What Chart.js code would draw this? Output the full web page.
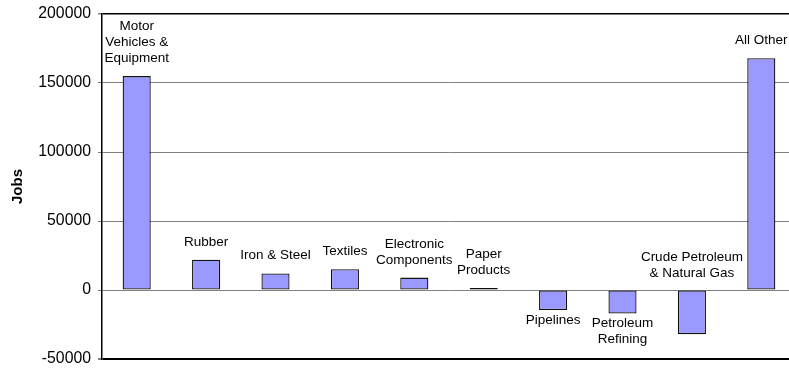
<!DOCTYPE html>
<html>
<head>
<meta charset="utf-8">
<script src="https://cdn.jsdelivr.net/npm/chart.js@4/dist/chart.umd.min.js"></script>
<style>
  html, body { margin: 0; padding: 0; background: #fff; overflow: hidden; }
  #wrap { position: relative; width: 796px; height: 369px; }
</style>
</head>
<body>
<div id="wrap"><canvas id="c"></canvas></div>
<script>
// Industry groups (multi-line names as drawn beside each bar)
const categories = [
  ['Motor', 'Vehicles &', 'Equipment'],
  ['Rubber'],
  ['Iron & Steel'],
  ['Textiles'],
  ['Electronic', 'Components'],
  ['Paper', 'Products'],
  ['Pipelines'],
  ['Petroleum', 'Refining'],
  ['Crude Petroleum', '& Natural Gas'],
  ['All Other']
];

// Change in jobs per industry
const jobs = [155000, 22000, 12000, 15000, 9000, 1500, -14500, -17000, -32000, 168000];

// Value axis ticks
const yTicks = [-50000, 0, 50000, 100000, 150000, 200000];

const FONT = "'Liberation Sans', Arial, Helvetica, sans-serif";

// Writes each industry name above positive bars and below negative ones;
// a name that would run past the bottom of the plot goes above the zero line.
const barNames = {
  id: 'barNames',
  afterDatasetsDraw(chart) {
    const ctx = chart.ctx;
    const meta = chart.getDatasetMeta(0);
    const area = chart.chartArea;
    const lineH = 16;
    ctx.save();
    ctx.font = '13.5px ' + FONT;
    ctx.fillStyle = '#000';
    ctx.textAlign = 'center';
    ctx.textBaseline = 'alphabetic';
    meta.data.forEach((bar, i) => {
      const lines = categories[i];
      const v = jobs[i];
      const drawAbove = (edge) => {
        const lastBase = edge - 14;
        lines.forEach((t, k) => {
          ctx.fillText(t, bar.x, lastBase - (lines.length - 1 - k) * lineH);
        });
      };
      if (v >= 0) {
        drawAbove(bar.y);
      } else {
        const firstBase = bar.y + 14;
        const lastBottom = firstBase + (lines.length - 1) * lineH + 4;
        if (lastBottom > area.bottom) {
          drawAbove(bar.base);
        } else {
          lines.forEach((t, k) => {
            ctx.fillText(t, bar.x, firstBase + k * lineH);
          });
        }
      }
    });
    ctx.restore();
  }
};

new Chart(document.getElementById('c'), {
  type: 'bar',
  data: {
    labels: categories.map(c => c.join(' ')),
    datasets: [{
      data: jobs,
      backgroundColor: '#9999ff',
      borderColor: '#111',
      borderWidth: 1.3,
      borderSkipped: false,
      categoryPercentage: 1,
      barPercentage: 0.405
    }]
  },
  options: {
    responsive: true,
    maintainAspectRatio: false,
    animation: false,
    layout: { padding: { top: 14, bottom: 10, left: 0, right: 0 } },
    plugins: {
      legend: { display: false },
      tooltip: { enabled: false }
    },
    scales: {
      x: {
        display: false,
        grid: { display: false }
      },
      y: {
        min: -50000,
        max: 200000,
        afterBuildTicks(scale) {
          scale.ticks = yTicks.map(v => ({ value: v }));
        },
        afterFit(scale) {
          scale.width = 102;
          // only half a label's height is needed above and below the axis
          scale.paddingTop = 9;
          scale.paddingBottom = 9;
        },
        title: {
          display: true,
          text: 'Jobs',
          color: '#000',
          font: { family: FONT, size: 15, weight: 'bold' },
          padding: { top: 9, bottom: 0 }
        },
        ticks: {
          color: '#000',
          padding: 7,
          font: { family: FONT, size: 15.8 },
          callback: v => String(v)
        },
        border: { display: true, color: '#000', width: 1.5 },
        grid: {
          drawTicks: true,
          tickLength: 4,
          tickColor: '#808080',
          color: ctx => (ctx.tick && (ctx.tick.value === 200000 || ctx.tick.value === -50000)) ? '#000' : '#808080',
          lineWidth: ctx => (ctx.tick && ctx.tick.value === -50000) ? 2 : (ctx.tick && ctx.tick.value === 200000 ? 1.5 : 1)
        }
      }
    }
  },
  plugins: [barNames]
});
</script>
</body>
</html>
